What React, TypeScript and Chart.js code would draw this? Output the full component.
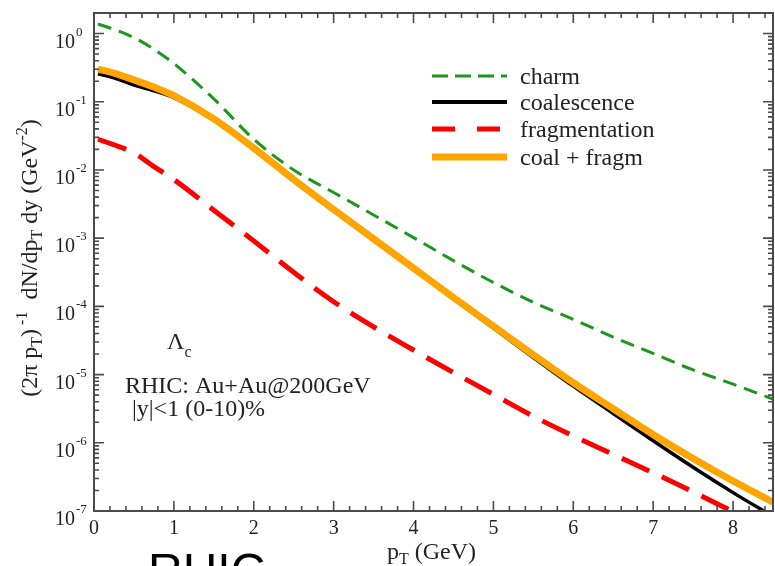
import React, { useEffect, useRef } from "react";
import { Chart, registerables } from "chart.js";
Chart.register(...registerables);

// pT grid (GeV)
const PT = [0.05, 0.25, 0.5, 0.75, 1, 1.5, 2, 2.5, 3, 3.5, 4, 4.5, 5, 5.5, 6, 6.5, 7, 7.5, 8, 8.5];

// spectra (GeV^-2)
const CHARM = [1.38, 1.15, 0.87, 0.589, 0.363, 0.11, 0.0282, 0.01, 0.00468, 0.00219, 0.00102, 0.000468, 0.000224, 0.000115, 0.0000646, 0.0000355, 0.0000204, 0.0000117, 0.00000724, 0.00000437];
const COAL = [0.257, 0.224, 0.176, 0.145, 0.115, 0.0537, 0.02, 0.00692, 0.00251, 0.000933, 0.000347, 0.000129, 0.0000479, 0.0000178, 0.00000676, 0.00000269, 0.00000107, 0.000000437, 0.000000186, 0.000000083];
const FRAG = [0.0282, 0.0234, 0.0178, 0.0112, 0.00724, 0.00257, 0.000912, 0.000316, 0.000117, 0.0000501, 0.0000229, 0.0000107, 0.00000513, 0.00000245, 0.00000126, 0.000000676, 0.000000363, 0.000000191, 0.000000098, 0.00000005];
const COAL_FRAG = [0.3, 0.263, 0.209, 0.164, 0.123, 0.0562, 0.0209, 0.00724, 0.00263, 0.000977, 0.000363, 0.000135, 0.0000513, 0.0000195, 0.00000759, 0.00000316, 0.00000132, 0.000000589, 0.000000275, 0.000000135];

const SERIES_NAMES = ["charm", "coalescence", "fragmentation", "coal + fragm"];
const X_TICKS = [0, 1, 2, 3, 4, 5, 6, 7, 8];
const Y_EXPONENTS = [-7, -6, -5, -4, -3, -2, -1, 0];

const GREEN = "#1e961e";
const RED = "#ff0000";
const ORANGE = "#ffa500";
const BLACK = "#000000";
const FRAME = "#4a4a4a";
const TEXT = "#222222";
const SERIF = "'Liberation Serif', 'DejaVu Serif', serif";

type Seg = { t: string; size: number; dy: number };

function richWidth(ctx: CanvasRenderingContext2D, segs: Seg[]) {
  let w = 0;
  for (const s of segs) {
    ctx.font = `${s.size}px ${SERIF}`;
    w += ctx.measureText(s.t).width;
  }
  return w;
}

function drawRich(ctx: CanvasRenderingContext2D, segs: Seg[], x: number, y: number) {
  let cx = x;
  ctx.textAlign = "left";
  ctx.textBaseline = "alphabetic";
  for (const s of segs) {
    ctx.font = `${s.size}px ${SERIF}`;
    ctx.fillText(s.t, cx, y + s.dy);
    cx += ctx.measureText(s.t).width;
  }
}

const decorPlugin = {
  id: "decor",
  afterDraw(chart: any) {
    const ctx: CanvasRenderingContext2D = chart.ctx;
    const { left, right, top, bottom } = chart.chartArea;
    const xs = chart.scales.x;
    const ys = chart.scales.y;
    ctx.save();

    // frame
    ctx.strokeStyle = FRAME;
    ctx.lineWidth = 2;
    ctx.setLineDash([]);
    ctx.strokeRect(left, top, right - left, bottom - top);

    // x ticks (major every 1, minor every 0.2)
    ctx.lineWidth = 1.6;
    for (let i = 0; i <= 42; i++) {
      const v = i * 0.2;
      const x = xs.getPixelForValue(v);
      if (x > right - 1) break;
      const len = i % 5 === 0 ? 10 : 5;
      ctx.beginPath();
      ctx.moveTo(x, bottom);
      ctx.lineTo(x, bottom - len);
      ctx.moveTo(x, top);
      ctx.lineTo(x, top + len);
      ctx.stroke();
    }
    // y ticks (log)
    for (const e of Y_EXPONENTS) {
      for (let m = 1; m <= 9; m++) {
        const v = m * Math.pow(10, e);
        const y = ys.getPixelForValue(v);
        if (y < top + 1) break;
        const len = m === 1 ? 10 : 5;
        ctx.beginPath();
        ctx.moveTo(left, y);
        ctx.lineTo(left + len, y);
        ctx.moveTo(right, y);
        ctx.lineTo(right - len, y);
        ctx.stroke();
      }
    }

    ctx.fillStyle = TEXT;
    // x tick labels
    ctx.font = `20px ${SERIF}`;
    ctx.textAlign = "center";
    ctx.textBaseline = "alphabetic";
    for (const v of X_TICKS) {
      ctx.fillText(String(v), xs.getPixelForValue(v), 534);
    }
    // y tick labels
    for (const e of Y_EXPONENTS) {
      const y = ys.getPixelForValue(Math.pow(10, e));
      ctx.font = `20px ${SERIF}`;
      ctx.textAlign = "right";
      ctx.fillText("10", 75, y + 14);
      ctx.font = `13px ${SERIF}`;
      ctx.textAlign = "left";
      ctx.fillText(String(e), 76, y + 2);
    }

    // x title
    drawRich(ctx, [
      { t: "p", size: 24, dy: 0 },
      { t: "T", size: 16, dy: 5 },
      { t: " (GeV)", size: 24, dy: 0 },
    ], 387, 559);

    // y title
    const ySegs: Seg[] = [
      { t: "(2\u03c0 p", size: 24, dy: 0 },
      { t: "T", size: 16, dy: 5 },
      { t: ")", size: 24, dy: 0 },
      { t: " -1", size: 16, dy: -10 },
      { t: "  dN/dp", size: 24, dy: 0 },
      { t: "T", size: 16, dy: 5 },
      { t: " dy (GeV", size: 24, dy: 0 },
      { t: "-2", size: 16, dy: -10 },
      { t: ")", size: 24, dy: 0 },
    ];
    ctx.save();
    ctx.translate(37, 258);
    ctx.rotate(-Math.PI / 2);
    const w = richWidth(ctx, ySegs);
    drawRich(ctx, ySegs, -w / 2, 0);
    ctx.restore();

    // legend
    const rows = [
      { y: 76, color: GREEN, lw: 3, dash: [16, 7] },
      { y: 102, color: BLACK, lw: 4, dash: [] as number[] },
      { y: 129, color: RED, lw: 5, dash: [23, 22] },
      { y: 157, color: ORANGE, lw: 7, dash: [] as number[] },
    ];
    rows.forEach((r, i) => {
      ctx.strokeStyle = r.color;
      ctx.lineWidth = r.lw;
      ctx.setLineDash(r.dash);
      ctx.beginPath();
      ctx.moveTo(432, r.y);
      ctx.lineTo(507, r.y);
      ctx.stroke();
      ctx.setLineDash([]);
      ctx.fillStyle = TEXT;
      ctx.font = `24px ${SERIF}`;
      ctx.textAlign = "left";
      ctx.fillText(SERIES_NAMES[i], 520, r.y + 8);
    });

    // annotations
    ctx.fillStyle = TEXT;
    drawRich(ctx, [
      { t: "\u039b", size: 24, dy: 0 },
      { t: "c", size: 16, dy: 8 },
    ], 167, 349);
    drawRich(ctx, [{ t: "RHIC: Au+Au@200GeV", size: 24, dy: 0 }], 125, 393);
    drawRich(ctx, [{ t: "|y|<1 (0-10)%", size: 24, dy: 0 }], 132, 416);

    // partially visible large caption below
    ctx.fillStyle = "#000";
    ctx.font = `48px 'Liberation Sans', Arial, sans-serif`;
    ctx.textAlign = "left";
    ctx.fillText("RHIC", 148, 587);

    ctx.restore();
  },
};

export default function App() {
  const ref = useRef<HTMLCanvasElement>(null);
  useEffect(() => {
    document.body.style.margin = "0";
    const canvas = ref.current!;
    const mk = (arr: number[]) => PT.map((x, i) => ({ x, y: arr[i] }));
    const chart = new Chart(canvas, {
      type: "line",
      data: {
        datasets: [
          { label: SERIES_NAMES[0], data: mk(CHARM), borderColor: GREEN, borderWidth: 3, borderDash: [14, 8], pointRadius: 0, fill: false, cubicInterpolationMode: "monotone", order: 3 },
          { label: SERIES_NAMES[1], data: mk(COAL), borderColor: BLACK, borderWidth: 3.5, pointRadius: 0, fill: false, cubicInterpolationMode: "monotone", order: 1 },
          { label: SERIES_NAMES[2], data: mk(FRAG), borderColor: RED, borderWidth: 5, borderDash: [30, 14], pointRadius: 0, fill: false, cubicInterpolationMode: "monotone", order: 2 },
          { label: SERIES_NAMES[3], data: mk(COAL_FRAG), borderColor: ORANGE, borderWidth: 7, pointRadius: 0, fill: false, cubicInterpolationMode: "monotone", order: 0 },
        ] as any,
      },
      options: {
        responsive: false,
        animation: false,
        devicePixelRatio: 1,
        layout: { padding: { top: 13, right: 2, left: 0, bottom: 0 } },
        plugins: { legend: { display: false }, tooltip: { enabled: false } },
        scales: {
          x: {
            type: "linear",
            min: 0,
            max: 8.5,
            grid: { display: false },
            border: { display: false },
            ticks: { display: false },
            afterFit: (s: any) => { s.height = 55; },
          },
          y: {
            type: "logarithmic",
            min: 1e-7,
            max: 2,
            grid: { display: false },
            border: { display: false },
            ticks: { display: false },
            afterFit: (s: any) => { s.width = 94; },
          },
        },
      } as any,
      plugins: [decorPlugin],
    });
    return () => chart.destroy();
  }, []);
  return (
    <div style={{ position: "absolute", left: 0, top: 0, width: 775, height: 566, background: "#fff", overflow: "hidden" }}>
      <canvas ref={ref} width={775} height={566} style={{ display: "block", width: 775, height: 566 }} />
    </div>
  );
}
